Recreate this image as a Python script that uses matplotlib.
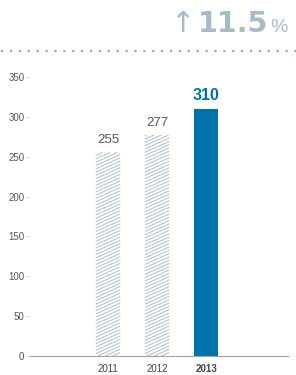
import numpy as np
import matplotlib.pyplot as plt

years = ["2011", "2012", "2013"]
values = [255, 277, 310]
change = "11.5"
yticks = [0, 50, 100, 150, 200, 250, 300, 350]

plt.rcParams['font.family'] = ['Liberation Sans', 'DejaVu Sans']

fig = plt.figure(figsize=(2.96, 3.75), dpi=100)
ax = fig.add_axes([30/296, 19/375, 258/296, 279/375])

x = np.arange(len(years))
blue = "#0073a8"
hatch_col = "#aebdc9"

ax.set_xlim(-1.59, 3.67)
ax.set_ylim(0, 350)

bars = []
for i, v in enumerate(values):
    if i == len(values) - 1:
        ax.bar(x[i], v, width=0.48, color=blue, linewidth=0)
        ax.text(x[i], v + 8, str(v), ha="center", va="bottom",
                fontsize=11.5, fontweight="bold", color=blue)
    else:
        b = ax.bar(x[i], v, width=0.48, color="white", linewidth=0)
        bars.append(b[0])
        ax.text(x[i], v + 8, str(v), ha="center", va="bottom",
                fontsize=9.5, color="#555555")

# shallow diagonal hatching inside each hatched bar (display pixels)
fig.canvas.draw()
slope = 0.45
for p in bars:
    bb = p.get_window_extent()
    w = bb.x1 - bb.x0
    for y0 in np.arange(bb.y0 - w * slope, bb.y1, 3.3):
        xa = max(bb.x0, bb.x0 + (bb.y0 - y0) / slope)
        xb = min(bb.x1, bb.x0 + (bb.y1 - y0) / slope)
        if xb <= xa:
            continue
        ya = y0 + (xa - bb.x0) * slope
        yb = y0 + (xb - bb.x0) * slope
        ln = plt.Line2D([xa, xb], [ya, yb], transform=None,
                        color=hatch_col, linewidth=0.7)
        fig.add_artist(ln)

ax.set_xticks(x)
ax.set_xticklabels(years, fontsize=7, color="#444444")
ax.get_xticklabels()[-1].set_fontweight("bold")
ax.set_yticks(yticks)
ax.set_yticklabels([str(t) for t in yticks], fontsize=7, color="#555555")
ax.tick_params(axis="x", length=0, pad=6)
ax.tick_params(axis="y", length=3, color="#e6e6e6", pad=1)
for s in ["top", "right", "left"]:
    ax.spines[s].set_visible(False)
ax.spines["bottom"].set_color("#a0a0a0")
ax.spines["bottom"].set_linewidth(0.8)

# header
fig.add_artist(plt.Line2D([0.005, 1.0], [1 - 51/375, 1 - 51/375],
                          transform=fig.transFigure, color="#a0a8b0",
                          linestyle=(0, (1, 3)), linewidth=1.6))
head = "#a7bac8"
fig.text(268/296, 1 - 24/375, change, ha="right", va="center",
         fontsize=20.5, fontweight="bold", color=head, family="DejaVu Sans")
fig.text(182/296, 1 - 24/375, "\u2191", ha="center", va="center",
         fontsize=21, color=head, family="DejaVu Sans")
fig.text(270/296, 1 - 27/375, "%", ha="left", va="center",
         fontsize=14, color=head)

fig.savefig("out.png", dpi=100)
